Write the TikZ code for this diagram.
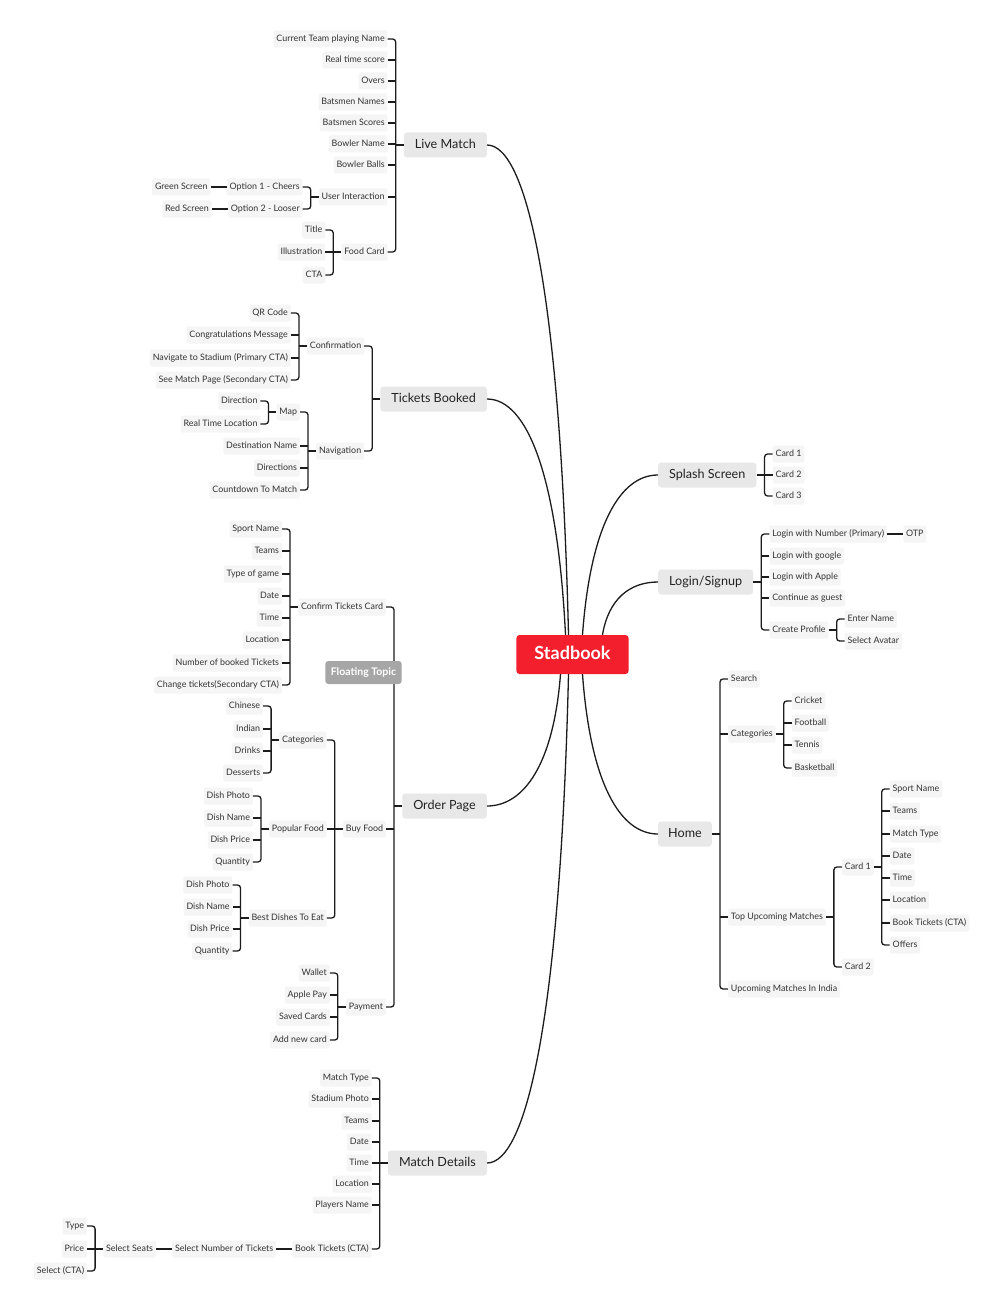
\documentclass[tikz,border=0pt]{standalone}
\usepackage{fontspec}
\setmainfont{Lato}
\usetikzlibrary{calc}

\definecolor{leafgray}{RGB}{245,245,245}
\definecolor{topicgray}{RGB}{232,232,232}
\definecolor{inkgray}{RGB}{51,51,51}
\definecolor{rootred}{RGB}{243,31,44}
\definecolor{floatgray}{RGB}{166,166,166}

% bracket to the left of a parent: parent, first, last, middle children
\newcommand\lfork[4]{%
  \coordinate (#1-s) at ($(#1.west)+(-8,0)$);
  \draw[link] (#1.west) -- (#1-s);
  \draw[link,rounded corners=3pt] (#2.east) -| (#1-s) |- (#3.east);
  \def\forkmid{#4}\ifx\forkmid\empty\else
    \foreach \ch in {#4} \draw[link] (\ch.east) -- (\ch.east -| #1-s);
  \fi}
% bracket to the right of a parent
\newcommand\rfork[4]{%
  \coordinate (#1-s) at ($(#1.east)+(8,0)$);
  \draw[link] (#1.east) -- (#1-s);
  \draw[link,rounded corners=3pt] (#2.west) -| (#1-s) |- (#3.west);
  \def\forkmid{#4}\ifx\forkmid\empty\else
    \foreach \ch in {#4} \draw[link] (\ch.west) -- (\ch.west -| #1-s);
  \fi}

\begin{document}
\begin{tikzpicture}[x=1pt,y=-1pt,
    link/.style={draw={rgb,255:red,28;green,28;blue,28},line width=1.3pt},
    leaf/.style={fill=leafgray,rounded corners=2pt,text=inkgray,font=\fontsize{8.9}{10}\selectfont,
      inner xsep=2.8pt,inner ysep=0pt,minimum height=17pt,text height=6.5pt,text depth=2pt},
    topic/.style={fill=topicgray,rounded corners=3pt,text={rgb,255:red,34;green,34;blue,34},
      font=\fontsize{12.6}{15}\selectfont,inner xsep=11pt,inner ysep=0pt,minimum height=25pt,
      text height=9.5pt,text depth=3pt},
    root/.style={fill=rootred,rounded corners=3pt,text=white,font=\bfseries\fontsize{18}{21}\selectfont,
      inner xsep=18pt,inner ysep=0pt,minimum height=39pt,text height=12.5pt,text depth=3.5pt},
    floating/.style={fill=floatgray,rounded corners=3pt,text=white,font=\bfseries\fontsize{10.5}{12}\selectfont,
      inner xsep=5.5pt,inner ysep=0pt,minimum height=23pt,text height=7.5pt,text depth=2.5pt}]
    \useasboundingbox (0,-1) rectangle (1000,1307);
    \fill[white] (0,-1) rectangle (1000,1307);

    \node[root] (root) at (572.5,653.5) {Stadbook};

    % Live Match
    \node[topic,anchor=east] (live) at (487,144) {Live Match};
    \coordinate (live-k) at ($(live.west)+(-16,0)$);
    \node[leaf,anchor=east] (live1) at (live-k |- 0,38) {Current Team playing Name};
    \node[leaf,anchor=east] (live2) at (live-k |- 0,59) {Real time score};
    \node[leaf,anchor=east] (live3) at (live-k |- 0,80) {Overs};
    \node[leaf,anchor=east] (live4) at (live-k |- 0,101) {Batsmen Names};
    \node[leaf,anchor=east] (live5) at (live-k |- 0,122) {Batsmen Scores};
    \node[leaf,anchor=east] (live6) at (live-k |- 0,143) {Bowler Name};
    \node[leaf,anchor=east] (live7) at (live-k |- 0,164) {Bowler Balls};
    \node[leaf,anchor=east] (ui) at (live-k |- 0,196) {User Interaction};
    \node[leaf,anchor=east] (food) at (live-k |- 0,251) {Food Card};
    \lfork{live}{live1}{food}{live2,live3,live4,live5,live6,live7,ui}
    \coordinate (ui-k) at ($(ui.west)+(-16,0)$);
    \node[leaf,anchor=east] (opt1) at (ui-k |- 0,186) {Option 1 - Cheers};
    \node[leaf,anchor=east] (opt2) at (ui-k |- 0,208) {Option 2 - Looser};
    \lfork{ui}{opt1}{opt2}{}
    \node[leaf,anchor=east] (green) at ($(opt1.west)+(-16,0)$) {Green Screen};
    \node[leaf,anchor=east] (red) at ($(opt2.west)+(-16,0)$) {Red Screen};
    \draw[link] (green) -- (opt1);
    \draw[link] (red) -- (opt2);
    \coordinate (food-k) at ($(food.west)+(-16,0)$);
    \node[leaf,anchor=east] (title) at (food-k |- 0,229) {Title};
    \node[leaf,anchor=east] (illus) at (food-k |- 0,251) {Illustration};
    \node[leaf,anchor=east] (cta) at (food-k |- 0,274) {CTA};
    \lfork{food}{title}{cta}{illus}

    % Tickets Booked
    \node[topic,anchor=east] (tick) at (487,398) {Tickets Booked};
    \coordinate (tick-k) at ($(tick.west)+(-16,0)$);
    \node[leaf,anchor=east] (conf) at (tick-k |- 0,345) {Confirmation};
    \node[leaf,anchor=east] (nav) at (tick-k |- 0,450) {Navigation};
    \lfork{tick}{conf}{nav}{}
    \coordinate (conf-k) at ($(conf.west)+(-16,0)$);
    \node[leaf,anchor=east] (qr) at (conf-k |- 0,312) {QR Code};
    \node[leaf,anchor=east] (congr) at (conf-k |- 0,334) {Congratulations Message};
    \node[leaf,anchor=east] (navst) at (conf-k |- 0,357) {Navigate to Stadium (Primary CTA)};
    \node[leaf,anchor=east] (seem) at (conf-k |- 0,379) {See Match Page (Secondary CTA)};
    \lfork{conf}{qr}{seem}{congr,navst}
    \coordinate (nav-k) at ($(nav.west)+(-16,0)$);
    \node[leaf,anchor=east] (map) at (nav-k |- 0,411) {Map};
    \node[leaf,anchor=east] (dest) at (nav-k |- 0,445) {Destination Name};
    \node[leaf,anchor=east] (dirs) at (nav-k |- 0,467) {Directions};
    \node[leaf,anchor=east] (count) at (nav-k |- 0,489) {Countdown To Match};
    \lfork{nav}{map}{count}{dest,dirs}
    \coordinate (map-k) at ($(map.west)+(-16,0)$);
    \node[leaf,anchor=east] (dirn) at (map-k |- 0,400) {Direction};
    \node[leaf,anchor=east] (rtl) at (map-k |- 0,423) {Real Time Location};
    \lfork{map}{dirn}{rtl}{}

    % Order Page
    \node[topic,anchor=east] (order) at (487,805) {Order Page};
    \coordinate (order-k) at ($(order.west)+(-16,0)$);
    \node[leaf,anchor=east] (ctc) at (order-k |- 0,606) {Confirm Tickets Card};
    \node[leaf,anchor=east] (buy) at (order-k |- 0,828) {Buy Food};
    \node[leaf,anchor=east] (pay) at (order-k |- 0,1006) {Payment};
    \lfork{order}{ctc}{pay}{buy}
    \coordinate (ctc-k) at ($(ctc.west)+(-16,0)$);
    \node[leaf,anchor=east] (ctc1) at (ctc-k |- 0,528) {Sport Name};
    \node[leaf,anchor=east] (ctc2) at (ctc-k |- 0,550) {Teams};
    \node[leaf,anchor=east] (ctc3) at (ctc-k |- 0,573) {Type of game};
    \node[leaf,anchor=east] (ctc4) at (ctc-k |- 0,595) {Date};
    \node[leaf,anchor=east] (ctc5) at (ctc-k |- 0,617) {Time};
    \node[leaf,anchor=east] (ctc6) at (ctc-k |- 0,639) {Location};
    \node[leaf,anchor=east] (ctc7) at (ctc-k |- 0,662) {Number of booked Tickets};
    \node[leaf,anchor=east] (ctc8) at (ctc-k |- 0,684) {Change tickets(Secondary CTA)};
    \lfork{ctc}{ctc1}{ctc8}{ctc2,ctc3,ctc4,ctc5,ctc6,ctc7}
    \coordinate (buy-k) at ($(buy.west)+(-16,0)$);
    \node[leaf,anchor=east] (fcat) at (buy-k |- 0,739) {Categories};
    \node[leaf,anchor=east] (pop) at (buy-k |- 0,828) {Popular Food};
    \node[leaf,anchor=east] (best) at (buy-k |- 0,917) {Best Dishes To Eat};
    \lfork{buy}{fcat}{best}{pop}
    \coordinate (fcat-k) at ($(fcat.west)+(-16,0)$);
    \node[leaf,anchor=east] (chin) at (fcat-k |- 0,705) {Chinese};
    \node[leaf,anchor=east] (ind) at (fcat-k |- 0,728) {Indian};
    \node[leaf,anchor=east] (drk) at (fcat-k |- 0,750) {Drinks};
    \node[leaf,anchor=east] (des) at (fcat-k |- 0,772) {Desserts};
    \lfork{fcat}{chin}{des}{ind,drk}
    \coordinate (pop-k) at ($(pop.west)+(-16,0)$);
    \node[leaf,anchor=east] (pop1) at (pop-k |- 0,795) {Dish Photo};
    \node[leaf,anchor=east] (pop2) at (pop-k |- 0,817) {Dish Name};
    \node[leaf,anchor=east] (pop3) at (pop-k |- 0,839) {Dish Price};
    \node[leaf,anchor=east] (pop4) at (pop-k |- 0,861) {Quantity};
    \lfork{pop}{pop1}{pop4}{pop2,pop3}
    \coordinate (best-k) at ($(best.west)+(-16,0)$);
    \node[leaf,anchor=east] (best1) at (best-k |- 0,884) {Dish Photo};
    \node[leaf,anchor=east] (best2) at (best-k |- 0,906) {Dish Name};
    \node[leaf,anchor=east] (best3) at (best-k |- 0,928) {Dish Price};
    \node[leaf,anchor=east] (best4) at (best-k |- 0,950) {Quantity};
    \lfork{best}{best1}{best4}{best2,best3}
    \coordinate (pay-k) at ($(pay.west)+(-16,0)$);
    \node[leaf,anchor=east] (pay1) at (pay-k |- 0,972) {Wallet};
    \node[leaf,anchor=east] (pay2) at (pay-k |- 0,994) {Apple Pay};
    \node[leaf,anchor=east] (pay3) at (pay-k |- 0,1016) {Saved Cards};
    \node[leaf,anchor=east] (pay4) at (pay-k |- 0,1039) {Add new card};
    \lfork{pay}{pay1}{pay4}{pay2,pay3}
    \node[floating] (float) at (363.5,671.5) {Floating Topic};

    % Match Details
    \node[topic,anchor=east] (md) at (487,1162) {Match Details};
    \coordinate (md-k) at ($(md.west)+(-16,0)$);
    \node[leaf,anchor=east] (md1) at (md-k |- 0,1077) {Match Type};
    \node[leaf,anchor=east] (md2) at (md-k |- 0,1098) {Stadium Photo};
    \node[leaf,anchor=east] (md3) at (md-k |- 0,1120) {Teams};
    \node[leaf,anchor=east] (md4) at (md-k |- 0,1141) {Date};
    \node[leaf,anchor=east] (md5) at (md-k |- 0,1162) {Time};
    \node[leaf,anchor=east] (md6) at (md-k |- 0,1183) {Location};
    \node[leaf,anchor=east] (md7) at (md-k |- 0,1204) {Players Name};
    \node[leaf,anchor=east] (book) at (md-k |- 0,1248) {Book Tickets (CTA)};
    \lfork{md}{md1}{book}{md2,md3,md4,md5,md6,md7}
    \node[leaf,anchor=east] (ntick) at ($(book.west)+(-16,0)$) {Select Number of Tickets};
    \node[leaf,anchor=east] (seats) at ($(ntick.west)+(-16,0)$) {Select Seats};
    \draw[link] (ntick) -- (book);
    \draw[link] (seats) -- (ntick);
    \coordinate (seats-k) at ($(seats.west)+(-16,0)$);
    \node[leaf,anchor=east] (type) at (seats-k |- 0,1225) {Type};
    \node[leaf,anchor=east] (price) at (seats-k |- 0,1248) {Price};
    \node[leaf,anchor=east] (sel) at (seats-k |- 0,1270) {Select (CTA)};
    \lfork{seats}{type}{sel}{price}

    % Splash Screen
    \node[topic,anchor=west] (splash) at (658,474) {Splash Screen};
    \coordinate (splash-k) at ($(splash.east)+(16,0)$);
    \node[leaf,anchor=west] (card1) at (splash-k |- 0,453) {Card 1};
    \node[leaf,anchor=west] (card2) at (splash-k |- 0,474) {Card 2};
    \node[leaf,anchor=west] (card3) at (splash-k |- 0,495) {Card 3};
    \rfork{splash}{card1}{card3}{card2}

    % Login/Signup
    \node[topic,anchor=west] (login) at (658,581) {Login/Signup};
    \coordinate (login-k) at ($(login.east)+(16,0)$);
    \node[leaf,anchor=west] (ln1) at (login-k |- 0,533) {Login with Number (Primary)};
    \node[leaf,anchor=west] (ln2) at (login-k |- 0,555) {Login with google};
    \node[leaf,anchor=west] (ln3) at (login-k |- 0,576) {Login with Apple};
    \node[leaf,anchor=west] (ln4) at (login-k |- 0,597) {Continue as guest};
    \node[leaf,anchor=west] (prof) at (login-k |- 0,629) {Create Profile};
    \rfork{login}{ln1}{prof}{ln2,ln3,ln4}
    \node[leaf,anchor=west] (otp) at ($(ln1.east)+(16,0)$) {OTP};
    \draw[link] (ln1) -- (otp);
    \coordinate (prof-k) at ($(prof.east)+(16,0)$);
    \node[leaf,anchor=west] (pname) at (prof-k |- 0,618) {Enter Name};
    \node[leaf,anchor=west] (pav) at (prof-k |- 0,640) {Select Avatar};
    \rfork{prof}{pname}{pav}{}

    % Home
    \node[topic,anchor=west,inner xsep=10pt] (home) at (658,833) {Home};
    \coordinate (home-k) at ($(home.east)+(16,0)$);
    \node[leaf,anchor=west] (search) at (home-k |- 0,678) {Search};
    \node[leaf,anchor=west] (hcat) at (home-k |- 0,733) {Categories};
    \node[leaf,anchor=west] (top) at (home-k |- 0,916) {Top Upcoming Matches};
    \node[leaf,anchor=west] (india) at (home-k |- 0,988) {Upcoming Matches In India};
    \rfork{home}{search}{india}{hcat,top}
    \coordinate (hcat-k) at ($(hcat.east)+(16,0)$);
    \node[leaf,anchor=west] (cricket) at (hcat-k |- 0,700) {Cricket};
    \node[leaf,anchor=west] (football) at (hcat-k |- 0,722) {Football};
    \node[leaf,anchor=west] (tennis) at (hcat-k |- 0,744) {Tennis};
    \node[leaf,anchor=west] (basket) at (hcat-k |- 0,767) {Basketball};
    \rfork{hcat}{cricket}{basket}{football,tennis}
    \coordinate (top-k) at ($(top.east)+(16,0)$);
    \node[leaf,anchor=west] (hc1) at (top-k |- 0,866) {Card 1};
    \node[leaf,anchor=west] (hc2) at (top-k |- 0,966) {Card 2};
    \rfork{top}{hc1}{hc2}{}
    \coordinate (hc1-k) at ($(hc1.east)+(16,0)$);
    \node[leaf,anchor=west] (hc11) at (hc1-k |- 0,788) {Sport Name};
    \node[leaf,anchor=west] (hc12) at (hc1-k |- 0,810) {Teams};
    \node[leaf,anchor=west] (hc13) at (hc1-k |- 0,833) {Match Type};
    \node[leaf,anchor=west] (hc14) at (hc1-k |- 0,855) {Date};
    \node[leaf,anchor=west] (hc15) at (hc1-k |- 0,877) {Time};
    \node[leaf,anchor=west] (hc16) at (hc1-k |- 0,899) {Location};
    \node[leaf,anchor=west] (hc17) at (hc1-k |- 0,922) {Book Tickets (CTA)};
    \node[leaf,anchor=west] (hc18) at (hc1-k |- 0,944) {Offers};
    \rfork{hc1}{hc11}{hc18}{hc12,hc13,hc14,hc15,hc16,hc17}

    % branches from the root
    \draw[link] (live.east) .. controls +(41,0) and +(-8,-333) .. ($(root.north)+(-4,0)$);
    \draw[link] (tick.east) .. controls +(40,0) and +(-8,-160) .. ($(root.north)+(-7,0)$);
    \draw[link] (order.east) .. controls +(37,0) and +(-7,90) .. ($(root.south)+(-12,0)$);
    \draw[link] (md.east) .. controls +(41,0) and +(-8,333) .. ($(root.south)+(-4,0)$);
    \draw[link] (splash.west) .. controls +(-38,0) and +(8,-109) .. ($(root.north)+(10,0)$);
    \draw[link] (login.west) .. controls +(-28,0) and +(6,-36) .. ($(root.north)+(30,0)$);
    \draw[link] (home.west) .. controls +(-38,0) and +(8,109) .. ($(root.south)+(10,0)$);
\end{tikzpicture}
\end{document}
